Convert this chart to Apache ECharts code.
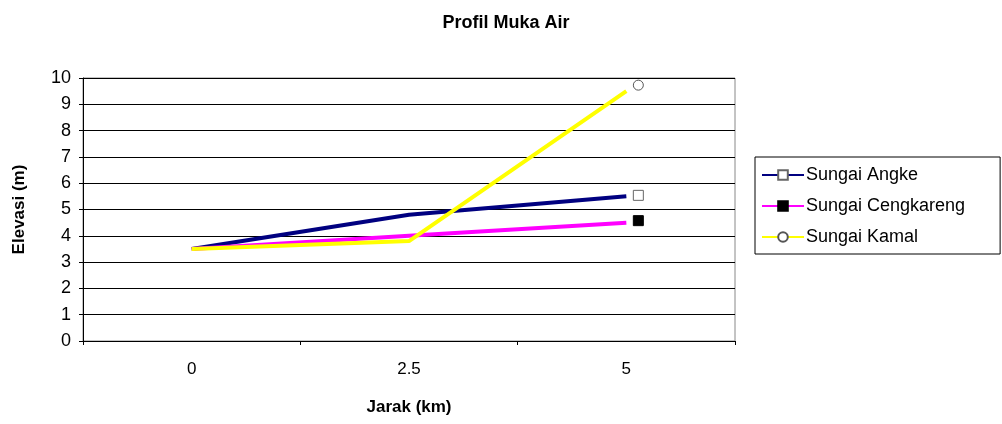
<!DOCTYPE html>
<html>
<head>
<meta charset="utf-8">
<script src="https://cdn.jsdelivr.net/npm/echarts@6/dist/echarts.min.js"></script>
<style>
html,body{margin:0;padding:0;background:#fff;}
#main{width:1002px;height:424px;}
</style>
</head>
<body>
<div id="main"></div>
<script>
var categories = ['0', '2.5', '5'];
var angke = [3.5, 4.8, 5.5];
var cengkareng = [3.5, 4.0, 4.5];
var kamal = [3.5, 3.8, 9.5];

// only the last point carries a marker (offset to the right, like the original)
function pts(arr, off){
	return arr.map(function(v, i){
		if(i < arr.length - 1) return {value: v, symbol: 'none'};
		return {value: v, symbolOffset: off};
	});
}

var myChart = echarts.init(document.getElementById('main'));
var font = 'Liberation Sans, Arial, sans-serif';
var option = {
	animation: false,
	title: {
		text: 'Profil Muka Air',
		left: 501, top: 9, textAlign: 'center',
		textStyle: {fontFamily: font, fontSize: 18, fontWeight: 'bold', color: '#000'}
	},
	legend: {
		orient: 'vertical',
		left: 755, top: 157,
		padding: [9, 35, 8, 6],
		itemGap: 13,
		itemWidth: 42, itemHeight: 12,
		borderColor: '#000', borderWidth: 1,
		textStyle: {fontFamily: font, fontSize: 18, color: '#000', padding: [0, 0, 0, -3]},
		data: ['Sungai Angke', 'Sungai Cengkareng', 'Sungai Kamal']
	},
	grid: {
		left: 83, right: 267, top: 78, bottom: 83,
		outerBoundsMode: 'none',
		containLabel: false,
		show: true, borderColor: '#888', borderWidth: 1
	},
	xAxis: {
		type: 'category',
		data: categories,
		boundaryGap: true,
		name: 'Jarak (km)',
		nameLocation: 'middle',
		nameGap: 58,
		nameTextStyle: {fontFamily: font, fontSize: 17, fontWeight: 'bold', color: '#000'},
		axisLine: {lineStyle: {color: '#000', width: 1}},
		axisTick: {show: true, length: 4, lineStyle: {color: '#000'}},
		axisLabel: {fontFamily: font, fontSize: 17, color: '#000', margin: 20}
	},
	yAxis: {
		type: 'value',
		min: 0, max: 10, interval: 1,
		name: 'Elevasi (m)',
		nameLocation: 'middle',
		nameGap: 55,
		nameRotate: 90,
		nameTextStyle: {fontFamily: font, fontSize: 17, fontWeight: 'bold', color: '#000'},
		axisLine: {show: true, lineStyle: {color: '#000', width: 1}},
		axisTick: {show: true, length: 4, lineStyle: {color: '#000'}},
		axisLabel: {fontFamily: font, fontSize: 18, color: '#000', margin: 12},
		splitLine: {show: true, lineStyle: {color: '#000', width: 1}}
	},
	series: [
		{
			name: 'Sungai Angke', type: 'line',
			data: pts(angke, [12, -1]),
			symbol: 'rect', symbolSize: 10,
			itemStyle: {color: '#fff', borderColor: '#666', borderWidth: 1},
			lineStyle: {color: '#000080', width: 4},
			color: '#000080'
		},
		{
			name: 'Sungai Cengkareng', type: 'line',
			data: pts(cengkareng, [12, -2]),
			symbol: 'rect', symbolSize: 10,
			itemStyle: {color: '#000', borderColor: '#000', borderWidth: 1},
			lineStyle: {color: '#ff00ff', width: 4},
			color: '#ff00ff'
		},
		{
			name: 'Sungai Kamal', type: 'line',
			data: pts(kamal, [12, -6]),
			symbol: 'circle', symbolSize: 10,
			itemStyle: {color: '#fff', borderColor: '#555', borderWidth: 1},
			lineStyle: {color: '#ffff00', width: 4},
			color: '#ffff00'
		}
	]
};
myChart.setOption(option);
</script>
</body>
</html>
